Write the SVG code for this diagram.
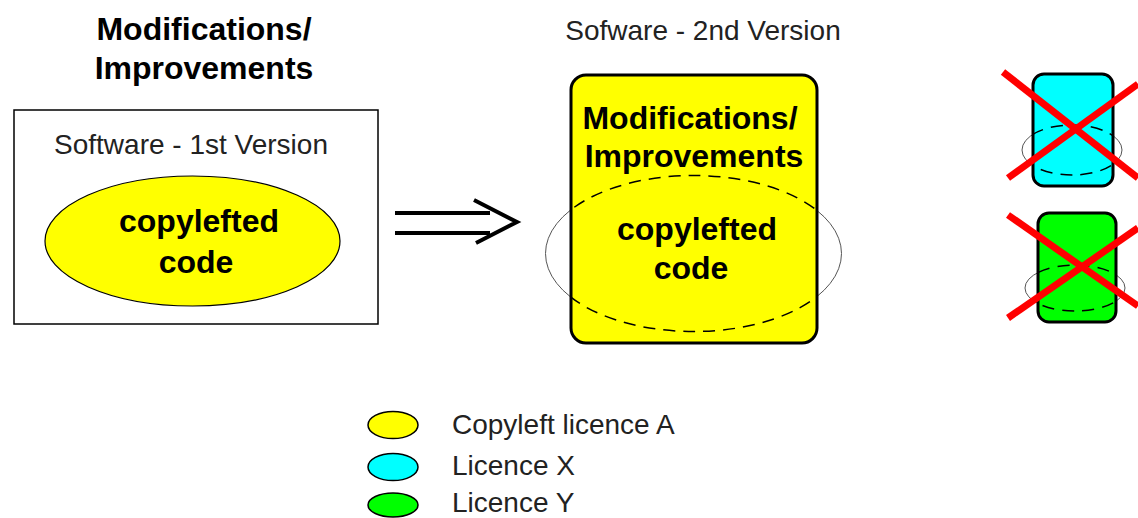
<svg xmlns="http://www.w3.org/2000/svg" width="1138" height="518" viewBox="0 0 1138 518">
<style>
.t{font-family:"Liberation Sans",Arial,sans-serif;font-size:28px;fill:#222}
.b{font-family:"Liberation Sans",Arial,sans-serif;font-size:32px;font-weight:bold;fill:#000}
.thin{fill:none;stroke:#555;stroke-width:1}
.dash{fill:none;stroke:#000;stroke-width:1.5;stroke-dasharray:12 8}
.cross{stroke:#f00;stroke-width:7;stroke-linecap:butt}
.lg{stroke:#000;stroke-width:1.5}
</style>
<defs>
<clipPath id="c2"><rect x="571" y="75" width="246" height="268" rx="15"/></clipPath>
<clipPath id="cx"><rect x="1033" y="74" width="80" height="112" rx="11"/></clipPath>
<clipPath id="cy"><rect x="1038" y="213" width="78" height="109" rx="11"/></clipPath>
</defs>
<rect width="1138" height="518" fill="#fff"/>

<g id="title">
<text class="b" x="204" y="40" text-anchor="middle">Modifications/</text>
<text class="b" x="204" y="79" text-anchor="middle">Improvements</text>
</g>

<g id="v1">
<rect x="14" y="110" width="364" height="214" fill="#fff" stroke="#000" stroke-width="1.5"/>
<text class="t" x="191" y="154" text-anchor="middle">Software - 1st Version</text>
<ellipse cx="192.5" cy="241" rx="147.5" ry="65" fill="#ff0" stroke="#000" stroke-width="1.2"/>
<text class="b" x="199" y="232" text-anchor="middle">copylefted</text>
<text class="b" x="196" y="273" text-anchor="middle">code</text>
</g>

<g id="connectors">
<line x1="395" y1="213" x2="490" y2="213" stroke="#000" stroke-width="4"/>
<line x1="395" y1="233" x2="490" y2="233" stroke="#000" stroke-width="4"/>
<polyline points="474,200 517,222 476,243" fill="none" stroke="#000" stroke-width="4"/>
</g>

<g id="v2">
<text class="t" x="703" y="40" text-anchor="middle">Sofware - 2nd Version</text>
<ellipse class="thin" cx="693.5" cy="253.5" rx="148" ry="78"/>
<rect x="571" y="75" width="246" height="268" rx="15" fill="#ff0" stroke="#000" stroke-width="3"/>
<ellipse class="dash" cx="693.5" cy="253.5" rx="148" ry="78" clip-path="url(#c2)"/>
<text class="b" x="690" y="129" text-anchor="middle">Modifications/</text>
<text class="b" x="694" y="167" text-anchor="middle">Improvements</text>
<text class="b" x="697" y="240" text-anchor="middle">copylefted</text>
<text class="b" x="691" y="279" text-anchor="middle">code</text>
</g>

<g id="licX">
<ellipse class="thin" cx="1072" cy="150" rx="50" ry="25"/>
<rect x="1033" y="74" width="80" height="112" rx="11" fill="#0ff" stroke="#000" stroke-width="3"/>
<ellipse class="dash" cx="1072" cy="150" rx="50" ry="25" clip-path="url(#cx)"/>
<line class="cross" x1="1003" y1="72" x2="1138" y2="178"/>
<line class="cross" x1="1008" y1="178" x2="1138" y2="84"/>
</g>

<g id="licY">
<ellipse class="thin" cx="1075" cy="288" rx="50" ry="23"/>
<rect x="1038" y="213" width="78" height="109" rx="11" fill="#0f0" stroke="#000" stroke-width="3"/>
<ellipse class="dash" cx="1075" cy="288" rx="50" ry="23" clip-path="url(#cy)"/>
<line class="cross" x1="1008" y1="215" x2="1138" y2="306"/>
<line class="cross" x1="1008" y1="318" x2="1138" y2="228"/>
</g>

<g id="legend">
<ellipse class="lg" cx="393" cy="425" rx="25" ry="13.5" fill="#ff0"/>
<ellipse class="lg" cx="393" cy="467" rx="25" ry="13.5" fill="#0ff"/>
<ellipse class="lg" cx="393" cy="505" rx="25" ry="12" fill="#0f0"/>
<text class="t" x="452" y="434">Copyleft licence A</text>
<text class="t" x="452" y="475">Licence X</text>
<text class="t" x="452" y="512">Licence Y</text>
</g>
</svg>
